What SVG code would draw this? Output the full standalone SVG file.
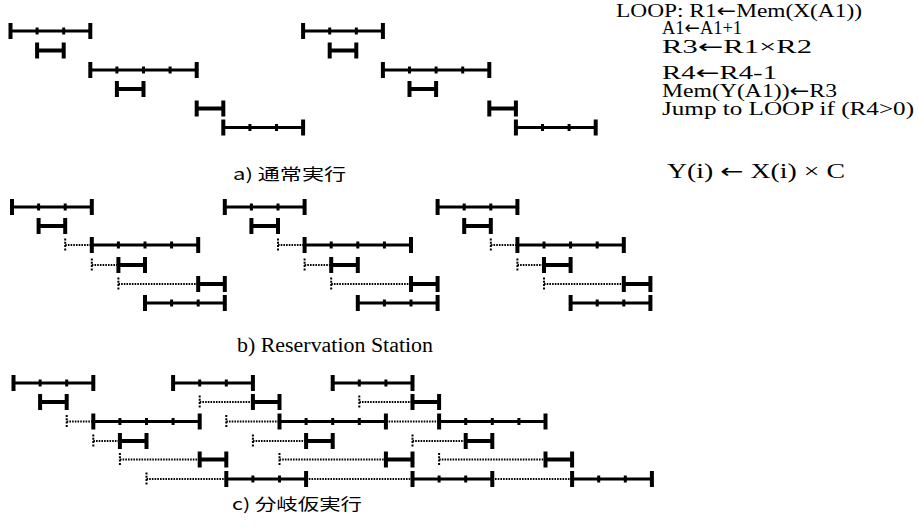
<svg xmlns="http://www.w3.org/2000/svg" width="919" height="532" viewBox="0 0 919 532">
<style>
.bar{fill:none;stroke:#000;stroke-width:3;marker-start:url(#cap);marker-end:url(#cap);marker-mid:url(#tk)}
.u{stroke-width:4}
.w{fill:none;stroke:#000;stroke-width:1.8;stroke-dasharray:1.6 1.1;marker-start:url(#ds)}
.code{font-family:"Liberation Serif","Times New Roman",serif;font-size:18.5px;fill:#000}
.ar{font-family:"DejaVu Sans",sans-serif}
.lbl{font-family:"Noto Sans CJK JP","Noto Sans",sans-serif;font-size:16px;fill:#000}
.lbs{font-family:"Liberation Serif","Times New Roman",serif;font-size:20px;fill:#000}
</style>
<defs>
<marker id="cap" markerUnits="userSpaceOnUse" markerWidth="8" markerHeight="20" refX="4" refY="10" orient="0" overflow="visible"><path d="M4 2V18" stroke="#000" stroke-width="4"/></marker>
<marker id="tk" markerUnits="userSpaceOnUse" markerWidth="6" markerHeight="10" refX="3" refY="5" orient="0" overflow="visible"><path d="M3 1.5V8.5" stroke="#000" stroke-width="3"/></marker>
<marker id="ds" markerUnits="userSpaceOnUse" markerWidth="6" markerHeight="16" refX="3" refY="8" orient="0" overflow="visible"><path d="M3 1.5V14.5" stroke="#000" stroke-width="2" stroke-dasharray="2 1.3"/></marker>
</defs>
<rect width="919" height="532" fill="#fff"/>

<g id="code">
<text class="code" x="616" y="17" textLength="246" lengthAdjust="spacingAndGlyphs">LOOP: R1<tspan class="ar">←</tspan>Mem(X(A1))</text>
<text class="code" x="662" y="34" textLength="80" lengthAdjust="spacingAndGlyphs">A1<tspan class="ar">←</tspan>A1+1</text>
<text class="code" x="662" y="53" textLength="150" lengthAdjust="spacingAndGlyphs">R3<tspan class="ar">←</tspan>R1×R2</text>
<text class="code" x="662" y="78.5" textLength="115" lengthAdjust="spacingAndGlyphs">R4<tspan class="ar">←</tspan>R4-1</text>
<text class="code" x="662" y="96.5" textLength="175" lengthAdjust="spacingAndGlyphs">Mem(Y(A1))<tspan class="ar">←</tspan>R3</text>
<text class="code" x="662" y="114.5" textLength="252" lengthAdjust="spacingAndGlyphs">Jump to LOOP if (R4&gt;0)</text>
</g>
<text id="formula" class="lbs" x="667" y="178" textLength="178" lengthAdjust="spacingAndGlyphs">Y(i) <tspan class="ar">←</tspan> X(i) × C</text>

<g id="a-normal">
<g id="a-iter1">
<polyline class="bar" points="10.5,31 37.1,31 63.7,31 90.3,31"/>
<polyline class="bar u" points="37.1,50.5 63.7,50.5"/>
<polyline class="bar" points="90.3,70 116.9,70 143.5,70 170.1,70 196.7,70"/>
<polyline class="bar u" points="116.9,89 143.5,89"/>
<polyline class="bar u" points="196.7,108.5 223.3,108.5"/>
<polyline class="bar" points="223.3,127.5 249.9,127.5 276.5,127.5 303.1,127.5"/>
</g>
<g id="a-iter2">
<polyline class="bar" points="303.1,31 329.7,31 356.3,31 382.9,31"/>
<polyline class="bar u" points="329.7,50.5 356.3,50.5"/>
<polyline class="bar" points="382.9,70 409.5,70 436.1,70 462.7,70 489.3,70"/>
<polyline class="bar u" points="409.5,89 436.1,89"/>
<polyline class="bar u" points="489.3,108.5 515.9,108.5"/>
<polyline class="bar" points="515.9,127.5 542.5,127.5 569.1,127.5 595.7,127.5"/>
</g>
<text class="lbl" x="233" y="180" textLength="113" lengthAdjust="spacingAndGlyphs">a) 通常実行</text>
</g>

<g id="b-reservation">
<g id="b-iter1">
<polyline class="bar" points="12,207 38.6,207 65.2,207 91.8,207"/>
<polyline class="bar u" points="38.6,226 65.2,226"/>
<line class="w" x1="65.2" y1="245" x2="91.8" y2="245"/>
<polyline class="bar" points="91.8,245 118.4,245 145,245 171.6,245 198.2,245"/>
<line class="w" x1="91.8" y1="265" x2="118.4" y2="265"/>
<polyline class="bar u" points="118.4,265 145,265"/>
<line class="w" x1="118.4" y1="284" x2="198.2" y2="284"/>
<polyline class="bar u" points="198.2,284 224.8,284"/>
<polyline class="bar" points="145,303 171.6,303 198.2,303 224.8,303"/>
</g>
<g id="b-iter2">
<polyline class="bar" points="224.8,207 251.4,207 278,207 304.6,207"/>
<polyline class="bar u" points="251.4,226 278,226"/>
<line class="w" x1="278" y1="245" x2="304.6" y2="245"/>
<polyline class="bar" points="304.6,245 331.2,245 357.8,245 384.4,245 411,245"/>
<line class="w" x1="304.6" y1="265" x2="331.2" y2="265"/>
<polyline class="bar u" points="331.2,265 357.8,265"/>
<line class="w" x1="331.2" y1="284" x2="411" y2="284"/>
<polyline class="bar u" points="411,284 437.6,284"/>
<polyline class="bar" points="357.8,303 384.4,303 411,303 437.6,303"/>
</g>
<g id="b-iter3">
<polyline class="bar" points="437.6,207 464.2,207 490.8,207 517.4,207"/>
<polyline class="bar u" points="464.2,226 490.8,226"/>
<line class="w" x1="490.8" y1="245" x2="517.4" y2="245"/>
<polyline class="bar" points="517.4,245 544,245 570.6,245 597.2,245 623.8,245"/>
<line class="w" x1="517.4" y1="265" x2="544" y2="265"/>
<polyline class="bar u" points="544,265 570.6,265"/>
<line class="w" x1="544" y1="284" x2="623.8" y2="284"/>
<polyline class="bar u" points="623.8,284 650.4,284"/>
<polyline class="bar" points="570.6,303 597.2,303 623.8,303 650.4,303"/>
</g>
<text class="lbs" x="237" y="352" textLength="196" lengthAdjust="spacingAndGlyphs">b) Reservation Station</text>
</g>

<g id="c-speculative">
<g id="c-iter1">
<polyline class="bar" points="13.5,383 40.1,383 66.7,383 93.3,383"/>
<polyline class="bar u" points="40.1,402 66.7,402"/>
<line class="w" x1="66.7" y1="421.5" x2="93.3" y2="421.5"/>
<polyline class="bar" points="93.3,421.5 119.9,421.5 146.5,421.5 173.1,421.5 199.7,421.5"/>
<line class="w" x1="93.3" y1="441" x2="119.9" y2="441"/>
<polyline class="bar u" points="119.9,441 146.5,441"/>
<line class="w" x1="119.9" y1="459.5" x2="199.7" y2="459.5"/>
<polyline class="bar u" points="199.7,459.5 226.3,459.5"/>
<line class="w" x1="146.5" y1="479" x2="226.3" y2="479"/>
<polyline class="bar" points="226.3,479 252.9,479 279.5,479 306.1,479"/>
</g>
<g id="c-iter2">
<polyline class="bar" points="173.1,383 199.7,383 226.3,383 252.9,383"/>
<line class="w" x1="199.7" y1="402" x2="252.9" y2="402"/>
<polyline class="bar u" points="252.9,402 279.5,402"/>
<line class="w" x1="226.3" y1="421.5" x2="279.5" y2="421.5"/>
<polyline class="bar" points="279.5,421.5 306.1,421.5 332.7,421.5 359.3,421.5 385.9,421.5"/>
<line class="w" x1="252.9" y1="441" x2="306.1" y2="441"/>
<polyline class="bar u" points="306.1,441 332.7,441"/>
<line class="w" x1="279.5" y1="459.5" x2="385.9" y2="459.5"/>
<polyline class="bar u" points="385.9,459.5 412.5,459.5"/>
<line class="w" x1="306.1" y1="479" x2="412.5" y2="479"/>
<polyline class="bar" points="412.5,479 439.1,479 465.7,479 492.3,479"/>
</g>
<g id="c-iter3">
<polyline class="bar" points="332.7,383 359.3,383 385.9,383 412.5,383"/>
<line class="w" x1="359.3" y1="402" x2="412.5" y2="402"/>
<polyline class="bar u" points="412.5,402 439.1,402"/>
<line class="w" x1="385.9" y1="421.5" x2="439.1" y2="421.5"/>
<polyline class="bar" points="439.1,421.5 465.7,421.5 492.3,421.5 518.9,421.5 545.5,421.5"/>
<line class="w" x1="412.5" y1="441" x2="465.7" y2="441"/>
<polyline class="bar u" points="465.7,441 492.3,441"/>
<line class="w" x1="439.1" y1="459.5" x2="545.5" y2="459.5"/>
<polyline class="bar u" points="545.5,459.5 572.1,459.5"/>
<line class="w" x1="492.3" y1="479" x2="572.1" y2="479"/>
<polyline class="bar" points="572.1,479 598.7,479 625.3,479 651.9,479"/>
</g>
<text class="lbl" x="232" y="510" textLength="130" lengthAdjust="spacingAndGlyphs">c) 分岐仮実行</text>
</g>
</svg>
